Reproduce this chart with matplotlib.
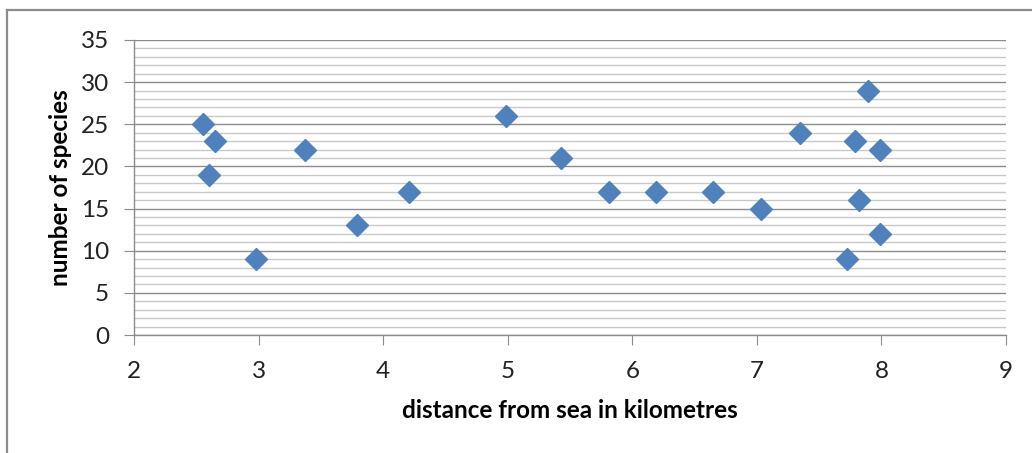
import matplotlib
matplotlib.use("Agg")
import matplotlib.pyplot as plt
from matplotlib.ticker import MultipleLocator

distance = [2.55, 2.65, 2.60, 2.98, 3.37, 3.79, 4.21, 4.99, 5.43, 5.81,
            6.19, 6.65, 7.03, 7.35, 7.79, 7.89, 7.99, 7.82, 7.99, 7.72]
species = [25, 23, 19, 9, 22, 13, 17, 26, 21, 17,
           17, 17, 15, 24, 23, 29, 22, 16, 12, 9]

x_label = "distance from sea in kilometres"
y_label = "number of species"

plt.rcParams['font.family'] = ['Lato', 'DejaVu Sans']

fig = plt.figure(figsize=(10.32, 4.53), dpi=100)
# outer frame
fig.add_artist(plt.Line2D([7/1032, 7/1032], [0, 1 - 10/453], transform=fig.transFigure,
                          color='#8c8c8c', lw=1.6))
fig.add_artist(plt.Line2D([7/1032, 1], [1 - 10/453, 1 - 10/453], transform=fig.transFigure,
                          color='#8c8c8c', lw=1.6))

ax = fig.add_axes([134/1032, 1 - 335/453, (1006 - 134)/1032, (335 - 40)/453])
ax.set_xlim(2, 9)
ax.set_ylim(0, 35)
ax.xaxis.set_major_locator(MultipleLocator(1))
ax.yaxis.set_major_locator(MultipleLocator(5))
ax.yaxis.set_minor_locator(MultipleLocator(1))
ax.grid(True, which='major', axis='y', color='#8c8c8c', lw=1.0)
ax.grid(True, which='minor', axis='y', color='#c8c8c8', lw=1.0)
ax.set_axisbelow(True)
for s in ['top', 'right']:
    ax.spines[s].set_visible(False)
for s in ['left', 'bottom']:
    ax.spines[s].set_color('#8c8c8c')
    ax.spines[s].set_linewidth(1.0)
ax.tick_params(axis='both', which='major', length=7, color='#8c8c8c', labelsize=17.5,
               labelcolor='#222222')
ax.tick_params(axis='y', which='minor', length=0)
ax.tick_params(axis='x', pad=12)
ax.tick_params(axis='y', pad=11)

ax.plot(distance, species, linestyle='none', marker='D', markersize=11,
        color='#4F81BD', markeredgecolor='#4F81BD', zorder=3, clip_on=False)

ax.set_xlabel(x_label, fontsize=17.5, fontweight='bold', labelpad=12)
ax.set_ylabel(y_label, fontsize=17.5, fontweight='bold', labelpad=6)

fig.savefig("out.png", dpi=100)
